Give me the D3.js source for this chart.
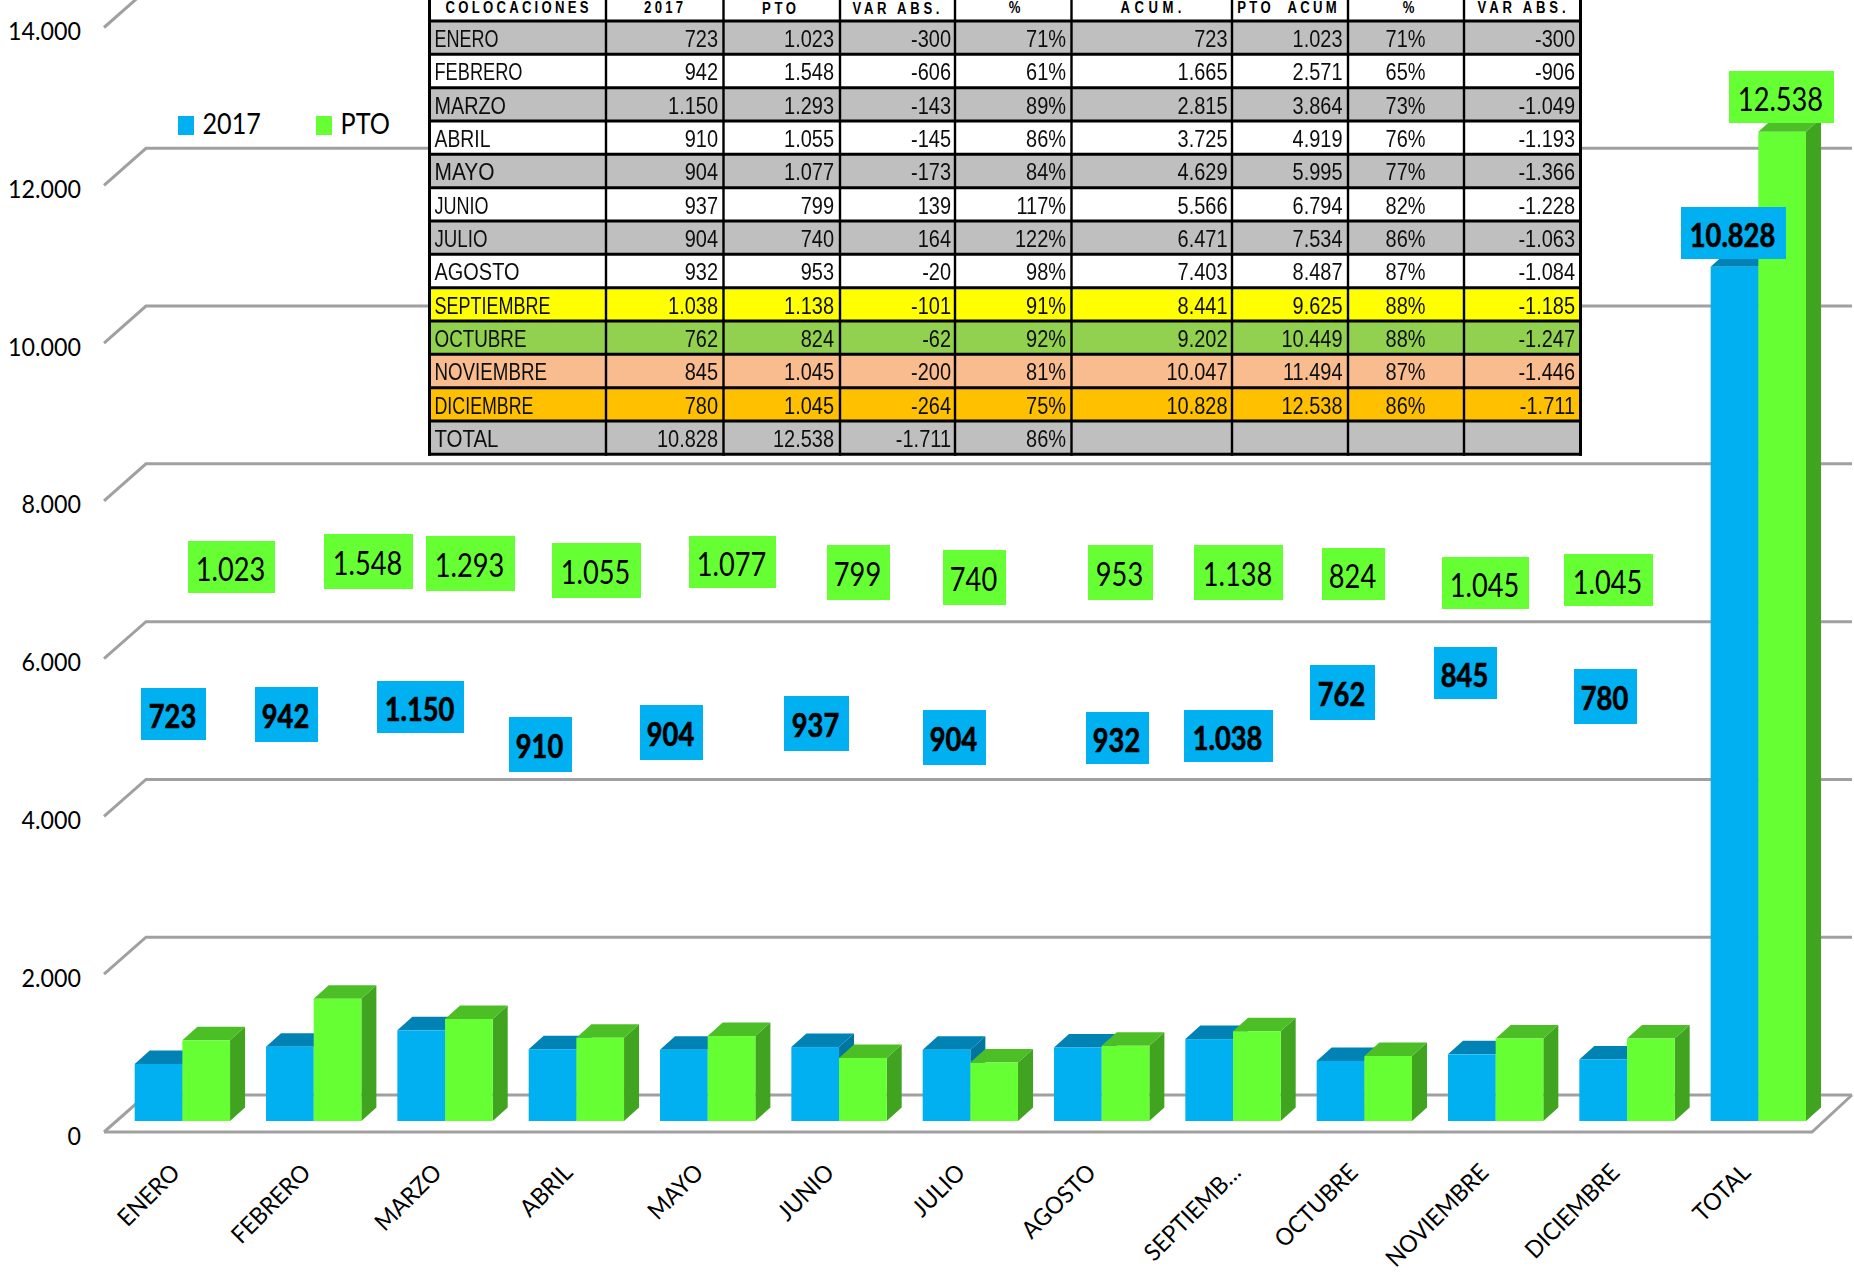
<!DOCTYPE html>
<html>
<head>
<meta charset="utf-8">
<script src="https://cdn.jsdelivr.net/npm/d3@7"></script>
<style>
html,body{margin:0;padding:0;background:#fff;overflow:hidden}
svg{display:block}
</style>
</head>
<body>
<div id="chart"></div>
<script>
// ---------- chart data ----------
const categories = ["ENERO","FEBRERO","MARZO","ABRIL","MAYO","JUNIO","JULIO","AGOSTO","SEPTIEMBRE","OCTUBRE","NOVIEMBRE","DICIEMBRE","TOTAL"];
const axisLabels = ["ENERO","FEBRERO","MARZO","ABRIL","MAYO","JUNIO","JULIO","AGOSTO","SEPTIEMB…","OCTUBRE","NOVIEMBRE","DICIEMBRE","TOTAL"];
const seriesNames = ["2017","PTO"];
const values2017 = [723,942,1150,910,904,937,904,932,1038,762,845,780,10828];
const valuesPTO = [1023,1548,1293,1055,1077,799,740,953,1138,824,1045,1045,12538];
const yTicks = [0,2000,4000,6000,8000,10000,12000,14000];

// ---------- table data ----------
const tableHeaders = ["COLOCACIONES","2017","PTO","VAR ABS.","%","ACUM.","PTO  ACUM","%","VAR ABS."];
const varAbs = [-300,-606,-143,-145,-173,139,164,-20,-101,-62,-200,-264,-1711];
const pct = [71,61,89,86,84,117,122,98,91,92,81,75,86];
const acum2017 = [723,1665,2815,3725,4629,5566,6471,7403,8441,9202,10047,10828,null];
const acumPTO = [1023,2571,3864,4919,5995,6794,7534,8487,9625,10449,11494,12538,null];
const pctAcum = [71,65,73,76,77,82,86,87,88,88,87,86,null];
const varAcum = [-300,-906,-1049,-1193,-1366,-1228,-1063,-1084,-1185,-1247,-1446,-1711,null];

// ---------- layout and style (kept apart from the data) ----------
const W = 1854, H = 1275;
const seriesColors = {
  "2017": {front:"#00B0F0", top:"#0083B4", side:"#00759F"},
  "PTO":  {front:"#66FF33", top:"#4CBF26", side:"#40A420"}
};
const rowFills = ["#BFBFBF","#FFFFFF","#BFBFBF","#FFFFFF","#BFBFBF","#FFFFFF","#BFBFBF","#FFFFFF","#FFFF00","#92D050","#F8BC8E","#FFC000","#BFBFBF"];
const colEdges = [429.5,606,723.5,840,955,1071.5,1232,1348,1464,1580.5];
const rowNameWidths = [64,88,71.5,56,60,54,53,85,116,92,112.5,99,64];
const headerCenters = [517,663.6,779,896,1014.5,1151,1287,1408.7,1521.6];
const headerWidths = [143,39,34,87,13,61,99.5,13,88];
const headerBaselines = [13,13,13.5,13.5,13,13,13,13,13];
const axisLabelNudge = [0,0,0,0,0,0,0,0,14,0,0,0,0];
// hand-placed callouts of the original: [left, top, right, bottom]
const boxes2017 = [[141,688,206,740],[255,687,318,742],[377,681,464,733],[509,717,572,772],[640,705,703,760],[784,696,849,751],[923,710,986,765],[1086,712,1149,764],[1184,710,1273,762],[1310,665,1375,720],[1434,647,1497,699],[1574,669,1637,724],[1681,207,1786,259]];
const boxesPTO = [[188,541,275,593],[324,534,413,589],[426,536,515,591],[552,543,641,598],[689,536,776,588],[827,545,890,600],[943,550,1006,605],[1088,545,1153,600],[1194,545,1283,600],[1322,548,1385,600],[1442,557,1529,609],[1564,554,1653,606],[1729,71,1834,123]];

const fmt = d3.formatLocale({decimal:",",thousands:".",grouping:[3],currency:["",""],minus:"-"}).format(",d");

const svg = d3.select("#chart").append("svg").attr("width",W).attr("height",H).attr("viewBox",[0,0,W,H]);
const defs = svg.append("defs");
defs.append("filter").attr("id","soft")
  .attr("filterUnits","userSpaceOnUse").attr("x",0).attr("y",-50).attr("width",W).attr("height",H+100)
  .append("feGaussianBlur").attr("stdDeviation",0.7);
defs.append("filter").attr("id","softText")
  .attr("filterUnits","userSpaceOnUse").attr("x",0).attr("y",-50).attr("width",W).attr("height",H+100)
  .append("feGaussianBlur").attr("stdDeviation",0.25);

// scales: floor front edge and bar base
const yWall = d3.scaleLinear().domain([0,14000]).range([1132,27.5]);
const yBar = d3.scaleLinear().domain([0,14000]).range([1121,16.5]);
const x0 = d3.scaleBand().domain(categories).range([134.7,1806]).paddingInner(0.274).paddingOuter(0).align(0);
const x1 = d3.scaleBand().domain(seriesNames).range([0,x0.bandwidth()]);
const wallDx = 42, wallDy = 37, wallLeft = 104, wallRight = 1812;
const barDx = 15, barDy = 13.5;

// gridlines with perspective
const grid = svg.append("g").attr("fill","none").attr("stroke","#A0A0A0").attr("stroke-width",3).attr("filter","url(#soft)");
grid.selectAll("path").data(yTicks).join("path")
  .attr("d",d=>{
    const y = yWall(d), p = d3.path();
    p.moveTo(wallLeft,y); p.lineTo(wallLeft+wallDx,y-wallDy); p.lineTo(wallRight+wallDx-2,y-wallDy);
    return p.toString();
  });
// floor
const floorPath = d3.path();
floorPath.moveTo(wallLeft,yWall(0)); floorPath.lineTo(wallRight,yWall(0)); floorPath.lineTo(wallRight+wallDx-2,yWall(0)-wallDy);
grid.append("path").attr("d",floorPath.toString());

// y axis labels
const yAxis = svg.append("g").attr("transform","translate(81,0)")
  .call(d3.axisLeft(yWall).tickValues(yTicks).tickSize(0).tickPadding(0).tickFormat(fmt));
yAxis.select(".domain").remove();
yAxis.selectAll("text")
  .attr("font-family","Lato").attr("font-size",25).attr("fill","#000").attr("dy",null).attr("x",0).attr("y",12)
  .attr("transform","scale(.93,1)");

// bars
const rows = categories.map((c,i)=>({c,i,vals:[{s:"2017",v:values2017[i]},{s:"PTO",v:valuesPTO[i]}]}));
const groups = svg.append("g").selectAll("g").data(rows).join("g").attr("transform",d=>`translate(${x0(d.c)},0)`);
const bars = groups.selectAll("g").data(d=>d.vals).join("g");
const bw = x1.bandwidth();
bars.append("path").attr("fill",d=>seriesColors[d.s].side)
  .attr("d",d=>{
    const x=x1(d.s)+bw, yt=yBar(d.v), yb=yBar(0);
    return `M${x},${yb}L${x+barDx},${yb-barDy}L${x+barDx},${yt-barDy}L${x},${yt}Z`;
  });
bars.append("path").attr("fill",d=>seriesColors[d.s].top)
  .attr("d",d=>{
    const x=x1(d.s), yt=yBar(d.v);
    return `M${x},${yt}L${x+barDx},${yt-barDy}L${x+bw+barDx},${yt-barDy}L${x+bw},${yt}Z`;
  });
bars.append("rect").attr("fill",d=>seriesColors[d.s].front)
  .attr("x",d=>x1(d.s)).attr("width",bw)
  .attr("y",d=>yBar(d.v)).attr("height",d=>yBar(0)-yBar(d.v));

// x labels
svg.append("g").selectAll("text").data(axisLabels).join("text")
  .attr("text-anchor","end").attr("font-family","Lato").attr("font-size",24).attr("fill","#000")
  .attr("transform",(d,i)=>`translate(${x0(categories[i])+x0.bandwidth()/2-1-i*0.45+axisLabelNudge[i]},1174) rotate(-45) scale(.95,1)`)
  .text(d=>d);

// table
const tbl = svg.append("g");
const rowTop = i => 21+33.33*i;
const colNums = [values2017,valuesPTO,varAbs,pct,acum2017,acumPTO,pctAcum,varAcum];
tbl.append("rect").attr("x",colEdges[0]).attr("y",-5).attr("width",colEdges[9]-colEdges[0]).attr("height",26).attr("fill","#fff");
tbl.selectAll(".row").data(categories).join("rect").attr("class","row")
  .attr("x",colEdges[0]).attr("y",(d,i)=>rowTop(i)).attr("width",colEdges[9]-colEdges[0]).attr("height",33.33)
  .attr("fill",(d,i)=>rowFills[i]);
const lineG = tbl.append("g").attr("stroke","#000");
lineG.selectAll(".h").data(d3.range(14)).join("line").attr("class","h")
  .attr("x1",colEdges[0]-1.5).attr("x2",colEdges[9]+1.5).attr("y1",d=>rowTop(d)).attr("y2",d=>rowTop(d)).attr("stroke-width",3);
lineG.selectAll(".v").data(colEdges).join("line").attr("class","v")
  .attr("x1",d=>d).attr("x2",d=>d).attr("y1",-5).attr("y2",rowTop(13)+1.5).attr("stroke-width",(d,i)=>(i==0||i==9)?3:2.4);

// header
const headerSquash = 0.82;
tbl.selectAll(".hd").data(tableHeaders).join("text").attr("class","hd")
  .attr("text-anchor","middle").attr("font-family","Liberation Sans").attr("font-weight","bold").attr("font-size",16)
  .attr("transform",(d,i)=>`translate(${headerCenters[i]},${headerBaselines[i]}) scale(${headerSquash},1)`)
  .style("white-space","pre")
  .attr("textLength",(d,i)=>headerWidths[i]/headerSquash).attr("lengthAdjust","spacing")
  .text(d=>d);

// row names
const body = tbl.append("g").attr("filter","url(#softText)");
body.selectAll(".nm").data(categories).join("text").attr("class","nm")
  .attr("x",434.5).attr("y",(d,i)=>rowTop(i)+26)
  .attr("font-family","Liberation Sans").attr("font-size",23.5).attr("fill","#111")
  .attr("textLength",(d,i)=>rowNameWidths[i]).attr("lengthAdjust","spacingAndGlyphs")
  .text(d=>d);

// numeric cells
const colRight = [718,834,951,1066,1227.5,1342.5,null,1575];
colNums.forEach((col,c)=>{
  const isPct = c===3||c===6;
  body.append("g").selectAll("text").data(col.map((v,i)=>({v,i})).filter(d=>d.v!==null)).join("text")
    .attr("text-anchor",c===6?"middle":"end")
    .attr("font-family","Liberation Sans").attr("font-size",23.5).attr("fill","#111")
    .attr("transform",d=>`translate(${c===6?1405.6:colRight[c]},${rowTop(d.i)+26}) scale(.85,1)`)
    .text(d=>isPct?d.v+"%":fmt(d.v));
});

// callout labels
function callouts(boxes,vals,color,weight,outline){
  const g = svg.append("g").selectAll("g").data(vals).join("g");
  g.append("rect").attr("fill",color)
    .attr("x",(d,i)=>boxes[i][0]).attr("y",(d,i)=>boxes[i][1])
    .attr("width",(d,i)=>boxes[i][2]-boxes[i][0]).attr("height",(d,i)=>boxes[i][3]-boxes[i][1]);
  g.append("text").attr("text-anchor","middle").attr("font-family","Lato").attr("font-weight",weight)
    .attr("font-size",32).attr("fill","#000").attr("stroke","#000").attr("stroke-width",outline)
    .attr("transform",(d,i)=>`translate(${(boxes[i][0]+boxes[i][2])/2-1},${(boxes[i][1]+boxes[i][3])/2+13.5}) scale(.85,1)`)
    .text(d=>fmt(d));
}
callouts(boxes2017,values2017,seriesColors["2017"].front,"bold",0.7);
callouts(boxesPTO,valuesPTO,seriesColors["PTO"].front,"normal",0);

// legend
const legendX = [178,316];
const lg = svg.append("g").selectAll("g").data(seriesNames).join("g");
lg.append("rect").attr("x",(d,i)=>legendX[i]).attr("y",116).attr("width",16).attr("height",19)
  .attr("fill",d=>seriesColors[d].front);
lg.append("text").attr("font-family","Lato").attr("font-size",28).attr("fill","#000")
  .attr("transform",(d,i)=>`translate(${legendX[i]+24.5},134) scale(.9,1)`).text(d=>d);
</script>
</body>
</html>
